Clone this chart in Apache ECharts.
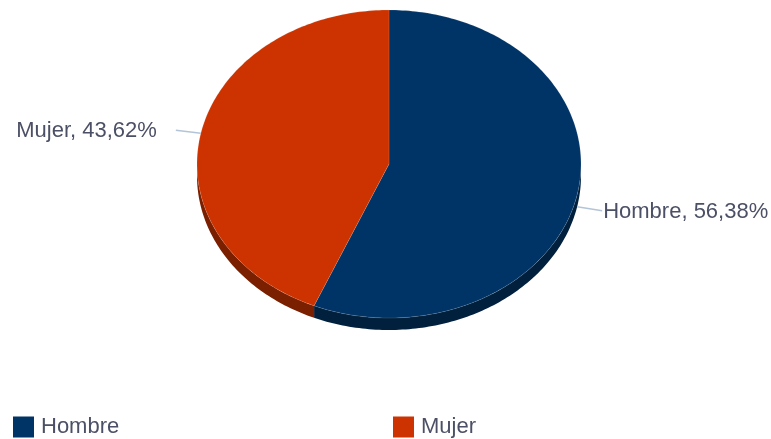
<!DOCTYPE html>
<html lang="es" style="height: 100%">
  <head>
    <meta charset="utf-8" />
  </head>
  <body style="height: 100%; margin: 0">
    <div id="container" style="width: 771px; height: 439px"></div>
    <script src="https://cdn.jsdelivr.net/npm/echarts@6/dist/echarts.min.js"></script>
    <script type="text/javascript">
      var categories = ["Hombre", "Mujer"];
      var values = [56.38, 43.62];
      var topColors = ["#003366", "#cc3300"];
      var sideColors = ["#00203d", "#7a1f00"];

      // layout of the tilted pie
      var cx = 389, cy = 164, rx = 192, ry = 154, depth = 12;
      var labelColor = "#4c5066";
      var font = "Liberation Sans, Arial, sans-serif";

      var total = values.reduce(function (a, b) { return a + b; }, 0);

      function pt(deg, dy) {
        var t = (deg * Math.PI) / 180;
        return [cx + rx * Math.sin(t), cy - ry * Math.cos(t) + (dy || 0)];
      }

      function arc(a0, a1, dy) {
        var pts = [];
        var n = Math.max(2, Math.ceil(Math.abs(a1 - a0)));
        for (var k = 0; k <= n; k++) {
          pts.push(pt(a0 + ((a1 - a0) * k) / n, dy));
        }
        return pts;
      }

      function fmt(v) {
        return v.toFixed(2).replace(".", ",") + "%";
      }

      function makeRender(idx) {
        return function (params, api) {
          var before = 0;
          for (var i = 0; i < idx; i++) before += values[i];
          var a0 = (before / total) * 360;
          var a1 = ((before + values[idx]) / total) * 360;
          var children = [];

          // visible side wall (front half, 90..270 deg)
          var s0 = Math.max(a0, 90), s1 = Math.min(a1, 270);
          if (s1 > s0) {
            var side = arc(s0, s1, 0).concat(arc(s1, s0, depth));
            children.push({
              type: "polygon",
              z2: 1,
              shape: { points: side },
              style: { fill: sideColors[idx] }
            });
          }

          // top face
          var face = [[cx, cy]].concat(arc(a0, a1, 0));
          children.push({
            type: "polygon",
            z2: 10,
            shape: { points: face },
            style: {
              fill: topColors[idx],
              stroke: "rgba(255,255,255,0.12)",
              lineWidth: 1
            }
          });

          // label with leader line
          var mid = (a0 + a1) / 2;
          var t = (mid * Math.PI) / 180;
          var front = Math.cos(t) < 0;
          var p = pt(mid, front ? depth : 0);
          var right = Math.sin(t) >= 0;
          var end = [p[0] + (right ? 25 : -25), p[1] + (front ? 4 : -3)];
          children.push({
            type: "polyline",
            z2: 20,
            shape: { points: [p, end] },
            style: { stroke: "#b4c4d8", lineWidth: 1.5, fill: null }
          });
          children.push({
            type: "text",
            z2: 20,
            style: {
              text: categories[idx] + ", " + fmt((values[idx] / total) * 100),
              x: right ? end[0] + 1 : end[0] - 19,
              y: end[1] + 1,
              align: right ? "left" : "right",
              verticalAlign: "middle",
              fill: labelColor,
              fontSize: 22,
              fontFamily: font
            }
          });

          return { type: "group", children: children };
        };
      }

      var dom = document.getElementById("container");
      var myChart = echarts.init(dom, null, { renderer: "canvas" });

      var legendText = { fontSize: 22, color: labelColor, fontFamily: font, padding: [0, 0, 0, 2] };

      var option = {
        animation: false,
        backgroundColor: "#ffffff",
        legend: [
          {
            data: [categories[0]],
            left: 13,
            top: 416,
            padding: 0,
            icon: "rect",
            itemWidth: 21,
            itemHeight: 21,
            textStyle: legendText
          },
          {
            data: [categories[1]],
            left: 393,
            top: 416,
            padding: 0,
            icon: "rect",
            itemWidth: 21,
            itemHeight: 21,
            textStyle: legendText
          }
        ],
        series: categories.map(function (name, i) {
          return {
            name: name,
            type: "custom",
            coordinateSystem: "none",
            itemStyle: { color: topColors[i] },
            silent: true,
            data: [[values[i]]],
            renderItem: makeRender(i)
          };
        })
      };

      myChart.setOption(option);
      window.addEventListener("resize", myChart.resize);
    </script>
  </body>
</html>
